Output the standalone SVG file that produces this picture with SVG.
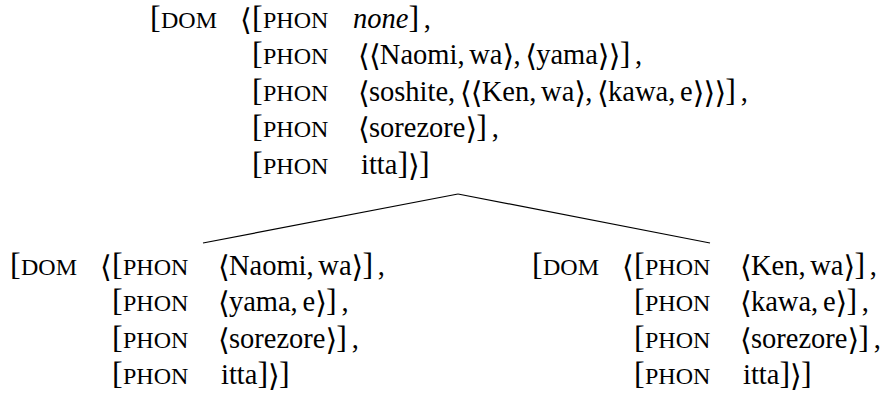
<svg xmlns="http://www.w3.org/2000/svg" width="882" height="394" viewBox="0 0 882 394">
<style>
text { font-family: "Liberation Serif", "Times New Roman", serif; fill: #000; font-size: 28.5px; word-spacing: -2.4px; }
.sc { font-size: 24px; }
.b { font-size: 32px; }
.a { font-family: "DejaVu Serif", "DejaVu Sans", serif; font-size: 30px; letter-spacing: -0.8px; baseline-shift: -2px; }
.i { font-style: italic; }
.conn line { stroke: #000; stroke-width: 1.2; }
</style>
<rect width="882" height="394" fill="#fff"/>
<g class="conn" id="connectors">
  <line x1="458" y1="194" x2="203" y2="243"/>
  <line x1="458" y1="194" x2="710" y2="243"/>
</g>
<g id="mother">
  <text y="28"><tspan class="b" x="150">[</tspan><tspan class="sc" x="161">DOM</tspan><tspan class="a" x="240">⟨</tspan><tspan class="b" x="252">[</tspan><tspan class="sc" x="263">PHON</tspan><tspan class="i" x="353">none</tspan><tspan class="b">]</tspan> ,</text>
  <text y="64.4"><tspan class="b" x="252">[</tspan><tspan class="sc" x="263">PHON</tspan><tspan x="358"><tspan class="a">⟨⟨</tspan>Naomi, wa<tspan class="a">⟩</tspan>, <tspan class="a">⟨</tspan>yama<tspan class="a">⟩⟩</tspan><tspan class="b">]</tspan> ,</tspan></text>
  <text y="100.8"><tspan class="b" x="252">[</tspan><tspan class="sc" x="263">PHON</tspan><tspan x="358"><tspan class="a">⟨</tspan>soshite, <tspan class="a">⟨⟨</tspan>Ken, wa<tspan class="a">⟩</tspan>, <tspan class="a">⟨</tspan>kawa, e<tspan class="a">⟩⟩⟩</tspan><tspan class="b">]</tspan> ,</tspan></text>
  <text y="137.2"><tspan class="b" x="252">[</tspan><tspan class="sc" x="263">PHON</tspan><tspan x="358"><tspan class="a">⟨</tspan>sorezore<tspan class="a">⟩</tspan><tspan class="b">]</tspan> ,</tspan></text>
  <text y="173.6"><tspan class="b" x="252">[</tspan><tspan class="sc" x="263">PHON</tspan><tspan x="361">itta<tspan class="b">]</tspan><tspan class="a">⟩</tspan><tspan class="b">]</tspan></tspan></text>
</g>
<g id="left-daughter">
  <text y="275"><tspan class="b" x="10">[</tspan><tspan class="sc" x="21">DOM</tspan><tspan class="a" x="100">⟨</tspan><tspan class="b" x="112">[</tspan><tspan class="sc" x="123">PHON</tspan><tspan x="218"><tspan class="a">⟨</tspan>Naomi, wa<tspan class="a">⟩</tspan><tspan class="b">]</tspan> ,</tspan></text>
  <text y="311.4"><tspan class="b" x="112">[</tspan><tspan class="sc" x="123">PHON</tspan><tspan x="218"><tspan class="a">⟨</tspan>yama, e<tspan class="a">⟩</tspan><tspan class="b">]</tspan> ,</tspan></text>
  <text y="347.8"><tspan class="b" x="112">[</tspan><tspan class="sc" x="123">PHON</tspan><tspan x="218"><tspan class="a">⟨</tspan>sorezore<tspan class="a">⟩</tspan><tspan class="b">]</tspan> ,</tspan></text>
  <text y="384.2"><tspan class="b" x="112">[</tspan><tspan class="sc" x="123">PHON</tspan><tspan x="221">itta<tspan class="b">]</tspan><tspan class="a">⟩</tspan><tspan class="b">]</tspan></tspan></text>
</g>
<g id="right-daughter">
  <text y="275"><tspan class="b" x="532">[</tspan><tspan class="sc" x="543">DOM</tspan><tspan class="a" x="622">⟨</tspan><tspan class="b" x="634">[</tspan><tspan class="sc" x="645">PHON</tspan><tspan x="740"><tspan class="a">⟨</tspan>Ken, wa<tspan class="a">⟩</tspan><tspan class="b">]</tspan> ,</tspan></text>
  <text y="311.4"><tspan class="b" x="634">[</tspan><tspan class="sc" x="645">PHON</tspan><tspan x="740"><tspan class="a">⟨</tspan>kawa, e<tspan class="a">⟩</tspan><tspan class="b">]</tspan> ,</tspan></text>
  <text y="347.8"><tspan class="b" x="634">[</tspan><tspan class="sc" x="645">PHON</tspan><tspan x="740"><tspan class="a">⟨</tspan>sorezore<tspan class="a">⟩</tspan><tspan class="b">]</tspan> ,</tspan></text>
  <text y="384.2"><tspan class="b" x="634">[</tspan><tspan class="sc" x="645">PHON</tspan><tspan x="743">itta<tspan class="b">]</tspan><tspan class="a">⟩</tspan><tspan class="b">]</tspan></tspan></text>
</g>
</svg>
